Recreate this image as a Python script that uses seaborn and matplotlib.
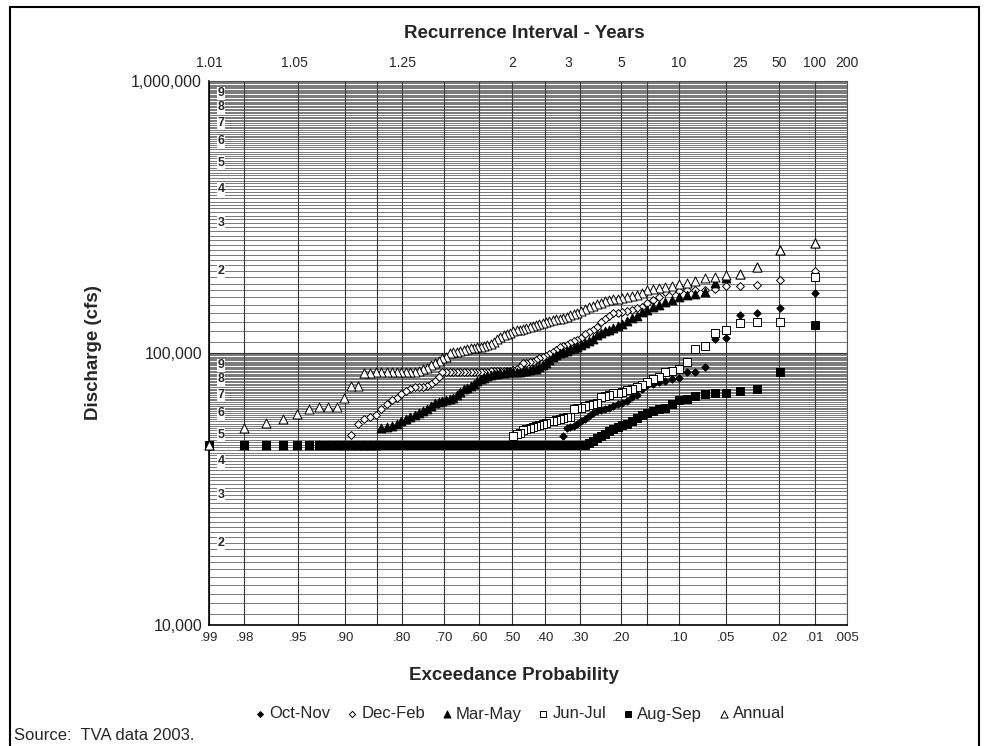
import numpy as np
import pandas as pd
import seaborn as sns
import matplotlib.pyplot as plt
from matplotlib.patches import Rectangle
from matplotlib.transforms import blended_transform_factory
from matplotlib.ticker import FixedLocator, FuncFormatter, NullFormatter
from statistics import NormalDist

# Peak discharge (cfs) by season, ranked largest -> smallest (100 years of record)
oct_nov = [166000, 146000, 140000, 138000, 114000, 112500, 89000, 85300, 85300, 81000,
           80000, 79000, 78000, 77000, 76000, 74000, 70000, 69000, 66500, 65500,
           65000, 64000, 63000, 62000, 61500, 61000, 60000, 58500, 57000, 56000,
           55000, 54000, 53500, 53000, 49500] + [46000] * 65
dec_feb = [200000, 185500, 177700, 176500, 176500, 171500, 171000, 170500, 170000, 169000,
           168500, 168000, 160600, 157000, 152600, 147600, 146000, 144500, 143000, 141500,
           140500, 140000, 137000, 133000, 130000, 125000, 121500, 119000, 117000, 114000,
           112000, 110500, 108500, 107000, 106000, 105000, 102500, 101000, 99000, 97500,
           96900, 95500, 94000, 93000, 92500, 92000, 91500, 89000, 87500, 86500,
           86000, 85800, 86000, 85900, 85800, 85700, 85600, 85500, 85400, 85300,
           85300, 85200, 85200, 85100, 85100, 85000, 85000, 84900, 84900, 84800,
           84800, 81800, 79000, 77000, 75500, 74800, 74800, 74800, 74000, 72600,
           70500, 68500, 67000, 65000, 62000, 59000, 58300, 57000, 55000, 50000] + [46000] * 10
mar_may = [254000, 240000, 207000, 196000, 189000, 181000, 167000, 165000, 163000, 161000,
           157000, 154000, 150000, 147000, 144000, 141000, 137000, 134000, 131000, 128000,
           126000, 124000, 122000, 120000, 118000, 116000, 113000, 111000, 109000, 107000,
           105500, 104500, 103500, 102000, 101000, 100000, 98500, 96500, 94500, 92000,
           90000, 88500, 87500, 87000, 86500, 86000, 86000, 85500, 85500, 85000,
           85000, 85000, 84500, 84500, 84000, 83500, 83000, 82000, 81000, 80000,
           79000, 77000, 75500, 74500, 73500, 72000, 70000, 68500, 67500, 67000,
           66500, 66000, 65500, 64000, 62500, 61000, 60000, 59000, 58000, 57000,
           56000, 55000, 54000, 53500, 53000] + [46000] * 15
jun_jul = [191000, 130500, 130000, 129000, 121500, 118000, 106000, 103500, 92500, 87000,
           86000, 85500, 81500, 80000, 78000, 76000, 75000, 74000, 73000, 72000,
           71500, 71000, 70000, 69500, 69000, 65500, 65000, 64500, 64000, 63000,
           62700, 62000, 58300, 58000, 57500, 57000, 56500, 56000, 56000, 55500,
           55000, 54500, 54000, 53500, 53000, 52500, 52000, 51000, 50500, 49500] + [46000] * 50
aug_sep = [127000, 85400, 73500, 72700, 71000, 71000, 70500, 69700, 68000, 67000,
           65000, 63000, 62000, 61000, 60000, 59000, 57500, 56000, 55000, 54500,
           53500, 52500, 51500, 50500, 49500, 48500, 47500, 46500] + [46000] * 72
annual = [254000, 240000, 207000, 196000, 193600, 190000, 188000, 184000, 180700, 179000,
          177000, 175000, 173000, 171500, 170000, 166000, 164000, 162000, 160500, 159500,
          158500, 157500, 156500, 155000, 153000, 151000, 149000, 147000, 145000, 143000,
          140000, 139000, 138000, 136000, 134000, 133500, 133000, 132000, 131000, 130000,
          129000, 128000, 127000, 126000, 125000, 124000, 123000, 122000, 121000, 120000,
          118500, 117000, 116000, 114500, 113000, 110000, 108000, 107000, 106000, 105500,
          105000, 104500, 104000, 103500, 103000, 102000, 101000, 100500, 100000, 97000,
          95500, 93500, 92000, 90000, 88000, 87000, 86000, 85500, 85500, 85300,
          85300, 85200, 85000, 85000, 85000, 84800, 84500, 84200, 75600, 75600,
          68200, 63500, 63100, 63100, 62100, 59700, 57200, 55300, 53000, 46000]

series_names = ['Oct-Nov', 'Dec-Feb', 'Mar-May', 'Jun-Jul', 'Aug-Sep', 'Annual']
series_vals = [oct_nov, dec_feb, mar_may, jun_jul, aug_sep, annual]

prob_ticks = [.99, .98, .95, .90, .85, .80, .70, .60, .50, .40, .30, .20, .15, .10, .05, .02, .01, .005]
prob_labels = ['.99', '.98', '.95', '.90', '', '.80', '.70', '.60', '.50', '.40', '.30', '.20', '',
               '.10', '.05', '.02', '.01', '.005']
ri_labels = ['1.01', '1.05', '1.25', '2', '3', '5', '10', '25', '50', '100', '200']
ri_probs = [.99, 1 / 1.05, .80, .50, 1 / 3, .20, .10, .04, .02, .01, .005]

nd = NormalDist()


def zval(p):
    # normal probability paper position for an exceedance probability
    return nd.inv_cdf(1 - p)


frames = []
for name, vals in zip(series_names, series_vals):
    n = len(vals)
    p = np.arange(1, n + 1) / (n + 1)  # Weibull plotting position
    frames.append(pd.DataFrame({'series': name, 'z': [zval(q) for q in p], 'cfs': vals}))
df = pd.concat(frames, ignore_index=True)

styles = {
    'Oct-Nov': dict(marker='D', color='black', s=14),
    'Dec-Feb': dict(marker='D', color='white', s=16),
    'Mar-May': dict(marker='^', color='black', s=40),
    'Jun-Jul': dict(marker='s', color='white', s=30),
    'Aug-Sep': dict(marker='s', color='black', s=30),
    'Annual': dict(marker='^', color='white', s=42),
}

sns.set_style('white')
plt.rcParams['font.family'] = ['Liberation Sans', 'DejaVu Sans']

fig = plt.figure(figsize=(9.85, 7.46), dpi=100)
ax = fig.add_axes([209 / 985, 1 - 625 / 746, 638 / 985, 544 / 746])

for name in series_names:
    st = styles[name]
    sns.scatterplot(data=df[df['series'] == name], x='z', y='cfs', marker=st['marker'],
                    color=st['color'], s=st['s'], edgecolor='black', linewidth=0.7,
                    label=name, ax=ax, clip_on=False, zorder=3)

handles, labels = ax.get_legend_handles_labels()
if ax.get_legend() is not None:
    ax.get_legend().remove()

ax.set_yscale('log')
ax.set_ylim(1e4, 1e6)
ax.set_xlim(zval(.99), zval(.005))

ax.yaxis.set_major_locator(FixedLocator([1e4, 1e5, 1e6]))
ax.yaxis.set_major_formatter(FuncFormatter(lambda v, _: f'{v:,.0f}'))
minor_y = [k / 10 * 10 ** d for d in (4, 5) for k in range(11, 100)]
ax.yaxis.set_minor_locator(FixedLocator(minor_y))
ax.yaxis.set_minor_formatter(NullFormatter())

ax.set_xticks([zval(p) for p in prob_ticks])
ax.set_xticklabels(prob_labels)

ax.grid(True, which='major', axis='both', color='#333333', lw=0.8, zorder=0)
ax.grid(True, which='minor', axis='y', color='#444444', lw=0.5, zorder=0)
ax.set_axisbelow(True)

ax.tick_params(axis='both', which='both', length=0)
ax.tick_params(axis='x', labelsize=9.5, pad=5)
ax.tick_params(axis='y', labelsize=11.5, pad=5)
ax.set_xlabel('')
ax.set_ylabel('')
for side in ['left', 'bottom']:
    ax.spines[side].set_color('black')
    ax.spines[side].set_linewidth(1.2)
for side in ['top', 'right']:
    ax.spines[side].set_color('#555555')
    ax.spines[side].set_linewidth(0.8)

# recurrence interval scale along the top
sec = ax.secondary_xaxis('top')
sec.set_xticks([zval(p) for p in ri_probs])
sec.set_xticklabels(ri_labels)
sec.tick_params(length=0, pad=8, labelsize=10)
sec.spines['top'].set_visible(False)

# small mantissa labels on the log grid
trans = blended_transform_factory(ax.transAxes, ax.transData)
for d in (1e4, 1e5):
    for k in range(2, 10):
        ax.text(0.019, k * d, str(k), transform=trans, ha='center', va='center',
                fontsize=9, fontweight='bold', zorder=2,
                bbox=dict(facecolor='white', edgecolor='none', pad=0.5))

fig.text(524 / 985, 1 - 33 / 746, 'Recurrence Interval - Years', ha='center', va='center',
         fontsize=13.5, fontweight='bold')
fig.text(514 / 985, 1 - 676 / 746, 'Exceedance Probability', ha='center', va='center',
         fontsize=13.5, fontweight='bold')
fig.text(93 / 985, 1 - 353 / 746, 'Discharge (cfs)', ha='center', va='center', rotation=90,
         fontsize=13.5, fontweight='bold')
fig.text(14 / 985, 1 - 735 / 746, 'Source:  TVA data 2003.', ha='left', va='center', fontsize=12)

fig.legend(handles, labels, loc='center', bbox_to_anchor=(520 / 985, 1 - 714 / 746), ncol=6,
           frameon=False, fontsize=12, markerscale=0.8, handlelength=0.6, handletextpad=0.25,
           columnspacing=1.0)

fig.patches.append(Rectangle((10 / 985, -0.02), 969 / 985, 1.02 - 7 / 746, transform=fig.transFigure,
                             fill=False, edgecolor='black', linewidth=1.5))

fig.savefig('out.png', dpi=100)
plt.close(fig)
